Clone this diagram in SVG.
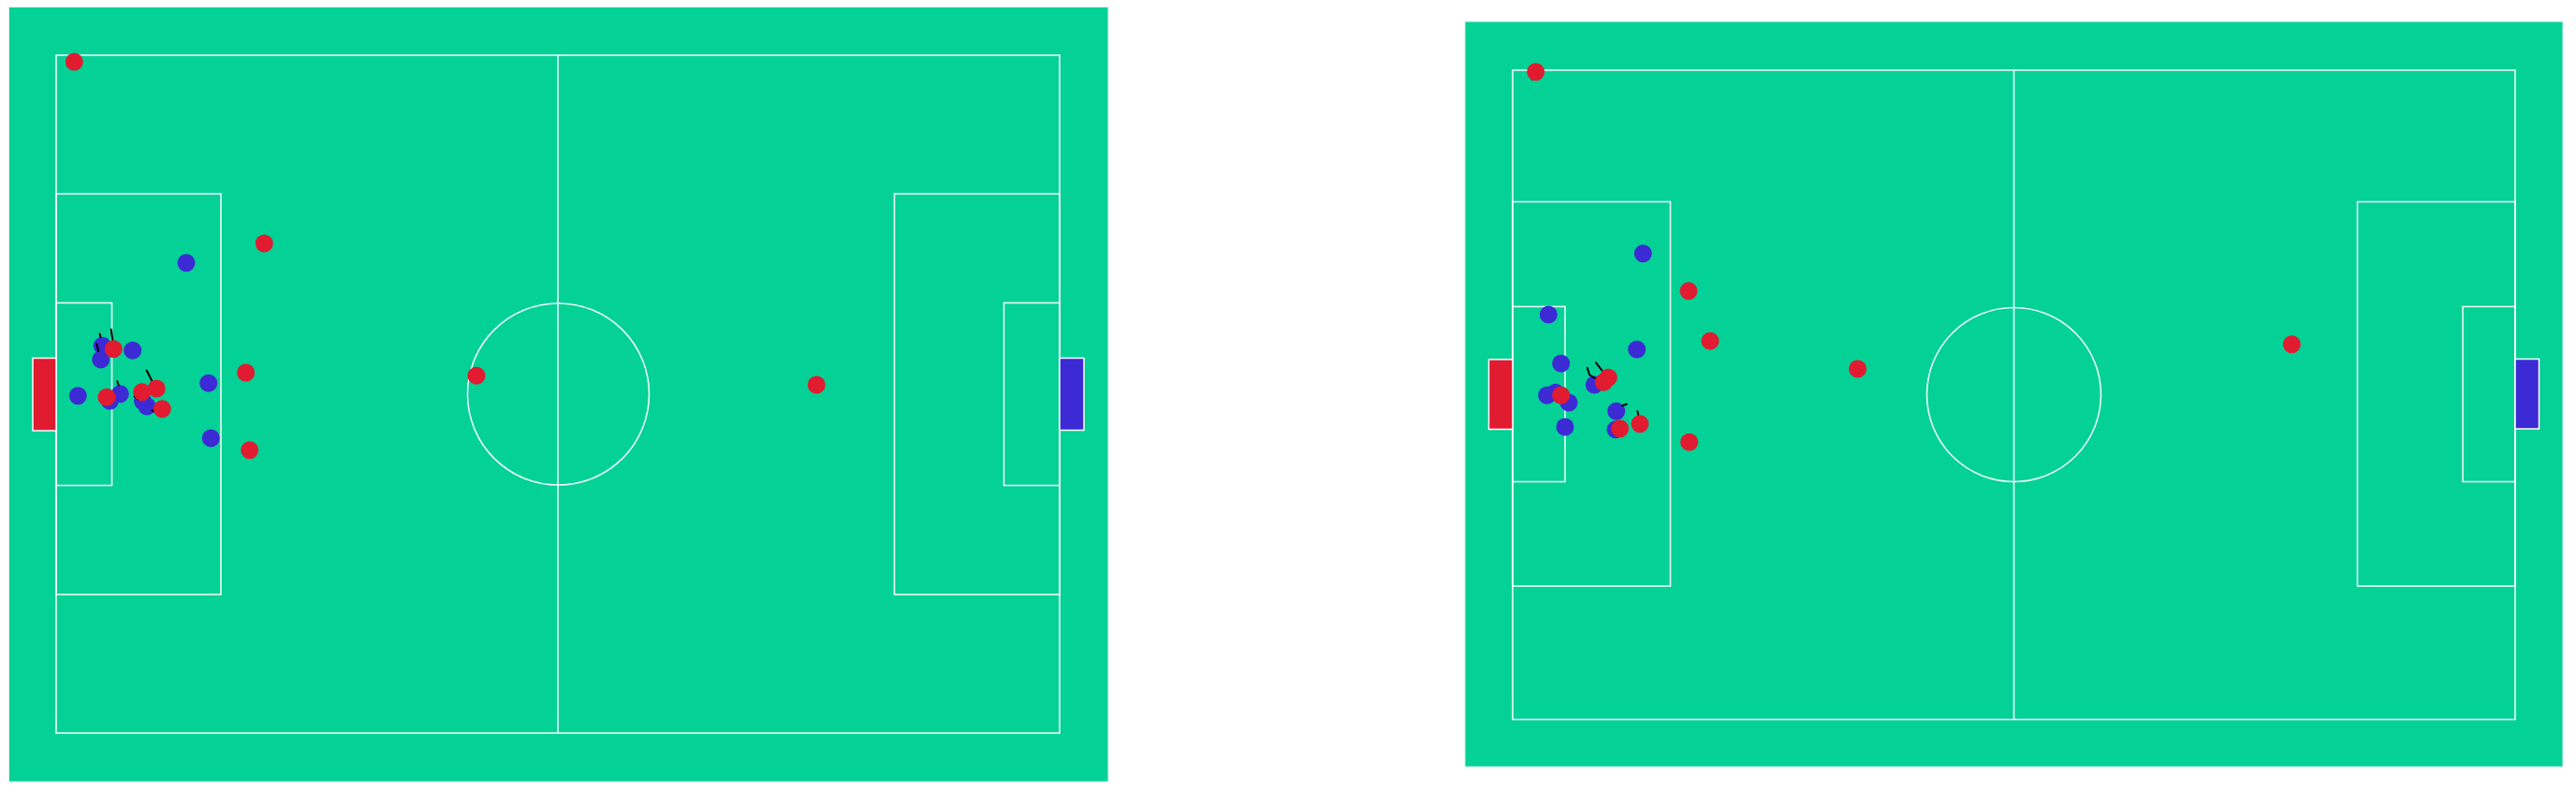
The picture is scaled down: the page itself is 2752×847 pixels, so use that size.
<svg xmlns="http://www.w3.org/2000/svg" width="2752" height="847" viewBox="0 0 2752 847">
<style>
.grass{fill:#04D196;stroke:#d8f5ea;stroke-width:1}
.ln{fill:none;stroke:#ffffff;stroke-width:1.6;stroke-opacity:0.92}
.gr{fill:#E11B30;stroke:#ffffff;stroke-width:1.5}
.gb{fill:#3C2AD4;stroke:#ffffff;stroke-width:1.5}
.r{fill:#E11B30}
.b{fill:#3C2AD4}
.tk{fill:none;stroke:#000000;stroke-width:2;stroke-linecap:round}
</style>
<rect x="0" y="0" width="2752" height="847" fill="#ffffff"/>
<g id="pitch-left">
<rect class="grass" x="9.5" y="7.5" width="1174.5" height="827.5"/>
<rect class="ln" x="60" y="59" width="1072" height="724"/>
<line class="ln" x1="596" y1="59" x2="596" y2="783"/>
<circle class="ln" cx="596.5" cy="421" r="97"/>
<rect class="ln" x="60" y="207" width="176" height="428"/>
<rect class="ln" x="60" y="323.5" width="59.5" height="195"/>
<rect class="ln" x="955.5" y="207" width="176.5" height="428"/>
<rect class="ln" x="1072.5" y="323.5" width="59.5" height="195"/>
<rect class="gr" x="35" y="382.5" width="25" height="77.5"/>
<rect class="gb" x="1132" y="382.5" width="26" height="77"/>
</g>
<g id="pitch-right">
<rect class="grass" x="1565" y="23" width="1173" height="796"/>
<rect class="ln" x="1616" y="75" width="1071" height="693.5"/>
<line class="ln" x1="2151.5" y1="75" x2="2151.5" y2="768.5"/>
<circle class="ln" cx="2151.5" cy="421.5" r="93"/>
<rect class="ln" x="1616" y="215.5" width="168.5" height="410.5"/>
<rect class="ln" x="1616" y="327.5" width="56" height="187"/>
<rect class="ln" x="2518.5" y="215.5" width="168.5" height="410.5"/>
<rect class="ln" x="2631" y="327.5" width="56" height="187"/>
<rect class="gr" x="1590.5" y="384" width="25.5" height="74.5"/>
<rect class="gb" x="2687" y="383.5" width="25.5" height="74.5"/>
</g>
<g id="blue-left">
<circle id="bl1" class="b" cx="199" cy="280.7" r="9.5"/>
<circle id="bl2" class="b" cx="109.3" cy="369.3" r="9.5"/>
<circle id="bl3" class="b" cx="141.7" cy="374.3" r="9.5"/>
<circle id="bl4" class="b" cx="107.7" cy="384" r="9.5"/>
<circle id="bl5" class="b" cx="83.3" cy="422.7" r="9.5"/>
<circle id="bl6" class="b" cx="128.3" cy="420.7" r="9.5"/>
<circle id="bl7" class="b" cx="117.3" cy="428.3" r="9.5"/>
<circle id="bl8" class="b" cx="152.5" cy="428.5" r="9.5"/>
<circle id="bl9" class="b" cx="157" cy="434" r="9.5"/>
<circle id="bl10" class="b" cx="222.7" cy="409.3" r="9.5"/>
<circle id="bl11" class="b" cx="225.3" cy="468" r="9.5"/>
</g>
<g id="blue-right">
<circle id="br1" class="b" cx="1755.3" cy="270.7" r="9.5"/>
<circle id="br2" class="b" cx="1654.3" cy="336" r="9.5"/>
<circle id="br3" class="b" cx="1748.7" cy="373.3" r="9.5"/>
<circle id="br4" class="b" cx="1667.7" cy="388.3" r="9.5"/>
<circle id="br5" class="b" cx="1703.3" cy="411" r="9.5"/>
<circle id="br6" class="b" cx="1652.7" cy="422.3" r="9.5"/>
<circle id="br7" class="b" cx="1661.7" cy="419.3" r="9.5"/>
<circle id="br8" class="b" cx="1676" cy="430" r="9.5"/>
<circle id="br9" class="b" cx="1672" cy="456" r="9.5"/>
<circle id="br10" class="b" cx="1726.7" cy="439.3" r="9.5"/>
<circle id="br11" class="b" cx="1726" cy="458.7" r="9.5"/>
</g>
<g id="connectors">
<line class="tk" x1="106.7" y1="356.7" x2="107.3" y2="360"/>
<line class="tk" x1="103.5" y1="367.5" x2="105" y2="375"/>
<line class="tk" x1="118.7" y1="351.7" x2="120.3" y2="363.3"/>
<line class="tk" x1="125.3" y1="407.3" x2="126.7" y2="411.5"/>
<line class="tk" x1="156.7" y1="395.7" x2="162.3" y2="406.7"/>
<line class="tk" x1="143.5" y1="423.5" x2="147.5" y2="426.5"/>
<line class="tk" x1="162.5" y1="438.5" x2="166" y2="440"/>
<polyline class="tk" points="1695.7,392.7 1698.3,400.7 1704,404"/>
<line class="tk" x1="1705" y1="387.3" x2="1711.7" y2="396"/>
<line class="tk" x1="1733.3" y1="433.3" x2="1737.7" y2="431.7"/>
<line class="tk" x1="1749.3" y1="439.3" x2="1750.3" y2="443.3"/>
<line class="tk" x1="1636" y1="83.5" x2="1637" y2="85"/>
</g>
<g id="red-left">
<circle id="rl1" class="r" cx="79.3" cy="66" r="9.5"/>
<circle id="rl2" class="r" cx="282.3" cy="260" r="9.5"/>
<circle id="rl3" class="r" cx="121.3" cy="372.7" r="9.5"/>
<circle id="rl4" class="r" cx="114" cy="424.3" r="9.5"/>
<circle id="rl5" class="r" cx="151.7" cy="418.7" r="9.5"/>
<circle id="rl6" class="r" cx="167.3" cy="415" r="9.5"/>
<circle id="rl7" class="r" cx="173.3" cy="436.7" r="9.5"/>
<circle id="rl8" class="r" cx="262.7" cy="398" r="9.5"/>
<circle id="rl9" class="r" cx="266.7" cy="480.7" r="9.5"/>
<circle id="rl10" class="r" cx="509" cy="401.3" r="9.5"/>
<circle id="rl11" class="r" cx="872.3" cy="411" r="9.5"/>
</g>
<g id="red-right">
<circle id="rr1" class="r" cx="1640.7" cy="76.7" r="9.5"/>
<circle id="rr2" class="r" cx="1804" cy="310.7" r="9.5"/>
<circle id="rr3" class="r" cx="1827" cy="364.3" r="9.5"/>
<circle id="rr4" class="r" cx="1718.3" cy="403.3" r="9.5"/>
<circle id="rr5" class="r" cx="1713.3" cy="408.3" r="9.5"/>
<circle id="rr6" class="r" cx="1667.7" cy="422.3" r="9.5"/>
<circle id="rr7" class="r" cx="1730.7" cy="457.7" r="9.5"/>
<circle id="rr8" class="r" cx="1752" cy="452.7" r="9.5"/>
<circle id="rr9" class="r" cx="1804.7" cy="472.3" r="9.5"/>
<circle id="rr10" class="r" cx="1984.6" cy="394" r="9.5"/>
<circle id="rr11" class="r" cx="2448.4" cy="367.7" r="9.5"/>
</g>
</svg>
